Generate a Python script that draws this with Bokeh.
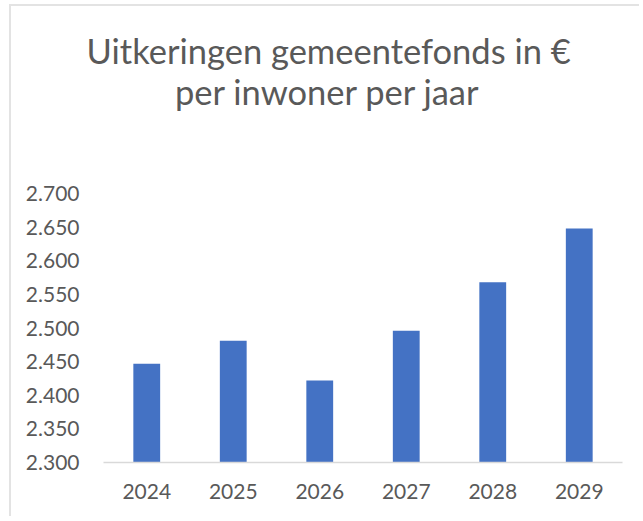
from bokeh.plotting import figure
from bokeh.models import CustomJSTickFormatter, Range1d, FactorRange, Title
from bokeh.embed import file_html
from bokeh.resources import INLINE

years = ["2024", "2025", "2026", "2027", "2028", "2029"]
values = [2447, 2481, 2422, 2496, 2568, 2648]
y_ticks = [2300, 2350, 2400, 2450, 2500, 2550, 2600, 2650, 2700]
title_line1 = "Uitkeringen gemeentefonds in €"
title_line2 = "per inwoner per jaar"

FONT = "Lato"
TXT = "#595959"

p = figure(x_range=FactorRange(*years), y_range=Range1d(2300, 2700),
           width=630, height=512, output_backend="svg", toolbar_location=None,
           title=None,
           min_border_left=92, min_border_right=19, min_border_top=187,
           min_border_bottom=56)
p.margin = (4, 0, 0, 9)
p.styles = {"border-top": "2px solid #e3e3e3", "border-left": "2px solid #e3e3e3"}

p.vbar(x=years, top=values, bottom=2300, width=0.31, color="#4472C4", line_color=None)

spacer = Title(text=" ", text_font_size="1px", standoff=79, text_color="white")
t2 = Title(text=title_line2, align="left", offset=71.5, standoff=0, text_font=FONT,
           text_font_size="34.5px", text_font_style="normal", text_color=TXT)
t1 = Title(text=title_line1, align="left", offset=-17, standoff=-4, text_font=FONT,
           text_font_size="34.5px", text_font_style="normal", text_color=TXT)
p.add_layout(spacer, "above")
p.add_layout(t2, "above")
p.add_layout(t1, "above")

p.outline_line_color = None
p.background_fill_color = "white"
p.border_fill_color = "white"
p.xgrid.grid_line_color = None
p.ygrid.grid_line_color = None

p.yaxis.ticker = y_ticks
p.yaxis.formatter = CustomJSTickFormatter(code="""
return tick.toFixed(0).replace(/\\B(?=(\\d{3})+(?!\\d))/g, ".");
""")
p.yaxis.axis_line_color = None
p.yaxis.major_tick_line_color = None
p.yaxis.minor_tick_line_color = None
p.yaxis.major_label_text_font = FONT
p.yaxis.major_label_text_font_size = "21px"
p.yaxis.major_label_text_color = TXT
p.yaxis.major_label_standoff = 18

p.xaxis.axis_line_color = "#d9d9d9"
p.xaxis.axis_line_width = 1.5
p.xaxis.major_tick_line_color = None
p.xaxis.minor_tick_line_color = None
p.xaxis.major_label_text_font = FONT
p.xaxis.major_label_text_font_size = "21px"
p.xaxis.major_label_text_color = TXT
p.xaxis.major_label_standoff = 15

open("out.html", "w").write(file_html(p, INLINE))
